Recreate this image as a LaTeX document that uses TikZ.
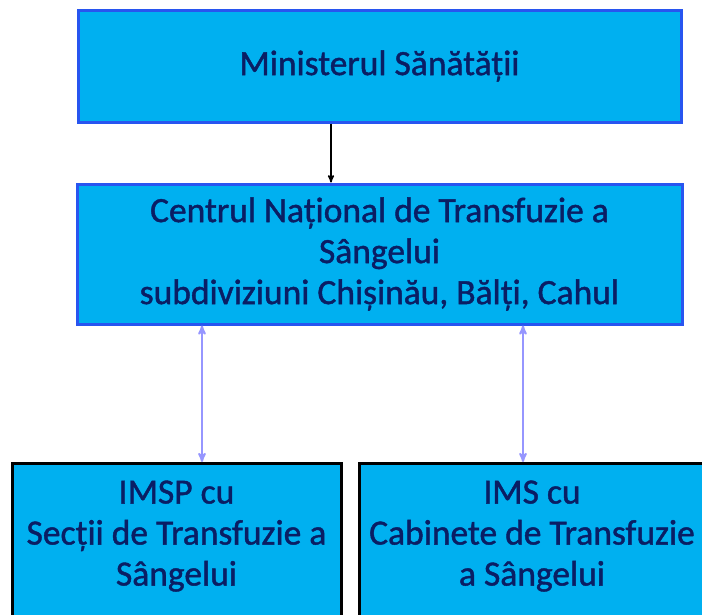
\documentclass[tikz,border=0pt]{standalone}
\usepackage{fontspec}
\setmainfont{Carlito}[FakeBold=1.2]
\usetikzlibrary{arrows}
\definecolor{box_fill}{RGB}{0,176,240}
\definecolor{edge_blue}{RGB}{40,85,240}
\definecolor{text_navy}{RGB}{10,30,100}
\definecolor{link_lilac}{RGB}{150,150,255}

\begin{document}
\begin{tikzpicture}[x=1pt,y=-1pt,>=stealth',font=\fontsize{35.5}{41}\selectfont]
    \tikzstyle{box}=[rectangle, fill=box_fill, text=text_navy, align=center, inner sep=0pt]
    \tikzstyle{head}=[style=box, draw=edge_blue, line width=3pt]
    \tikzstyle{unit}=[style=box, draw=black, line width=3pt, anchor=north, inner ysep=17pt, text depth=150pt]
    \tikzstyle{link}=[<->, draw=link_lilac, line width=2pt]

    \clip (0,0) rectangle (702,614);

    \node[head, minimum width=603pt, minimum height=112pt] (mins) at (379.5,66) {Ministerul Sănătății};
    \node[head, minimum width=605pt, minimum height=140pt] (cnts) at (379.5,254)
      {Centrul Național de Transfuzie a\\ Sângelui\\ subdiviziuni Chișinău, Bălți, Cahul};
    \node[unit, minimum width=329pt] (imsp) at (176.5,462) {IMSP cu\\ Secții de Transfuzie a\\ Sângelui};
    \node[unit, minimum width=345pt] (ims)  at (532,462)   {IMS cu\\ Cabinete de Transfuzie\\ a Sângelui};

    \draw[->, line width=1.5pt] ([xshift=-48.5pt]mins.south) -- ([xshift=-48.5pt]cnts.north);
    \draw[link] ([xshift=-177.5pt]cnts.south) -- ([xshift=-177.5pt]cnts.south |- imsp.north);
    \draw[link] ([xshift=143.5pt]cnts.south) -- ([xshift=143.5pt]cnts.south |- ims.north);
\end{tikzpicture}
\end{document}
